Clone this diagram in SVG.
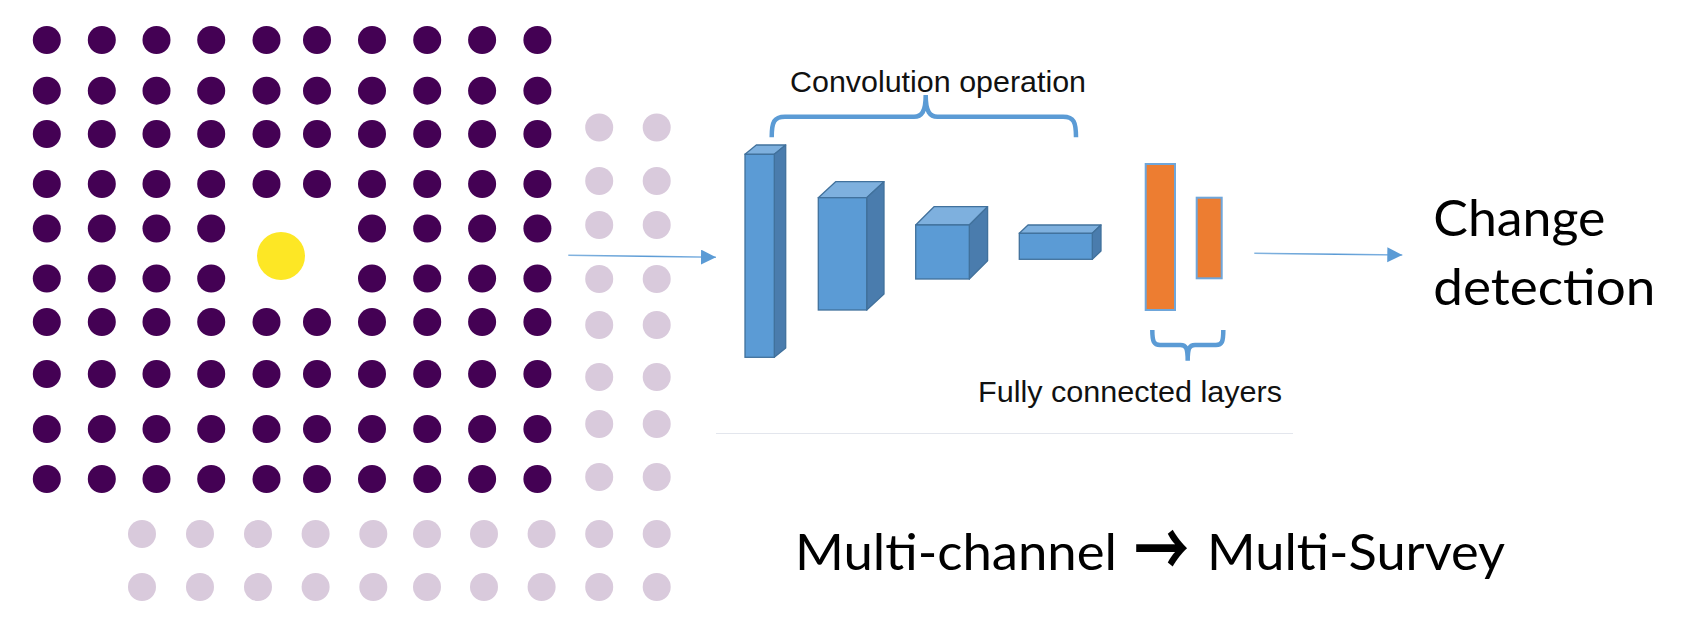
<svg xmlns="http://www.w3.org/2000/svg" width="1694" height="644" viewBox="0 0 1694 644">
<defs>
<style>
.d{fill:#440154}
.g{fill:#d9cadc}
.front{fill:#5b9bd5;stroke:#41719c;stroke-width:1.3}
.top{fill:#7eb0de;stroke:#41719c;stroke-width:1.3;stroke-linejoin:round}
.side{fill:#4a7cad;stroke:#41719c;stroke-width:1.3;stroke-linejoin:round}
.fc{fill:#ed7d31;stroke:#6fa6da;stroke-width:2}
.brace{fill:none;stroke:#5b9bd5;stroke-width:4.5;stroke-linecap:butt}
.lbl{font-family:"Liberation Sans",Arial,sans-serif;font-size:30px;fill:#111}
.big{font-family:Lato,"Open Sans",sans-serif;font-size:51px;fill:#000}
.arr{font-family:"Noto Sans CJK SC","Noto Sans CJK JP",sans-serif;font-weight:bold;font-size:76px}
.conn{fill:none;stroke-width:1.6}
</style>
<marker id="ah" markerUnits="userSpaceOnUse" markerWidth="16" markerHeight="16" refX="15" refY="7.5" orient="auto">
<path d="M0,0 L15,7.5 L0,15 Z" fill="#5b9bd5"/>
</marker>
<linearGradient id="gl1" gradientUnits="userSpaceOnUse" x1="568" y1="0" x2="716" y2="0">
<stop offset="0" stop-color="#5b9bd5" stop-opacity="0.75"/>
<stop offset="0.55" stop-color="#5b9bd5"/>
<stop offset="1" stop-color="#8ab8e4"/>
</linearGradient>
<linearGradient id="gl2" gradientUnits="userSpaceOnUse" x1="1254" y1="0" x2="1402" y2="0">
<stop offset="0" stop-color="#5b9bd5" stop-opacity="0.75"/>
<stop offset="0.55" stop-color="#5b9bd5"/>
<stop offset="1" stop-color="#8ab8e4"/>
</linearGradient>
</defs>
<rect width="1694" height="644" fill="#fff"/>

<g id="input-grid">
<g id="grey-dots">
<circle class="g" cx="599.2" cy="127.5" r="14"/><circle class="g" cx="656.7" cy="127.5" r="14"/>
<circle class="g" cx="599.2" cy="181" r="14"/><circle class="g" cx="656.7" cy="181" r="14"/>
<circle class="g" cx="599.2" cy="225" r="14"/><circle class="g" cx="656.7" cy="225" r="14"/>
<circle class="g" cx="599.2" cy="279" r="14"/><circle class="g" cx="656.7" cy="279" r="14"/>
<circle class="g" cx="599.2" cy="325" r="14"/><circle class="g" cx="656.7" cy="325" r="14"/>
<circle class="g" cx="599.2" cy="377" r="14"/><circle class="g" cx="656.7" cy="377" r="14"/>
<circle class="g" cx="599.2" cy="424" r="14"/><circle class="g" cx="656.7" cy="424" r="14"/>
<circle class="g" cx="599.2" cy="477" r="14"/><circle class="g" cx="656.7" cy="477" r="14"/>
<circle class="g" cx="142" cy="534" r="14"/><circle class="g" cx="200" cy="534" r="14"/><circle class="g" cx="258" cy="534" r="14"/><circle class="g" cx="315.6" cy="534" r="14"/><circle class="g" cx="373.3" cy="534" r="14"/><circle class="g" cx="427" cy="534" r="14"/><circle class="g" cx="484" cy="534" r="14"/><circle class="g" cx="541.6" cy="534" r="14"/><circle class="g" cx="599.2" cy="534" r="14"/><circle class="g" cx="656.7" cy="534" r="14"/>
<circle class="g" cx="142" cy="587" r="14"/><circle class="g" cx="200" cy="587" r="14"/><circle class="g" cx="258" cy="587" r="14"/><circle class="g" cx="315.6" cy="587" r="14"/><circle class="g" cx="373.3" cy="587" r="14"/><circle class="g" cx="427" cy="587" r="14"/><circle class="g" cx="484" cy="587" r="14"/><circle class="g" cx="541.6" cy="587" r="14"/><circle class="g" cx="599.2" cy="587" r="14"/><circle class="g" cx="656.7" cy="587" r="14"/>
</g>
<g id="dark-dots">
<circle class="d" cx="46.8" cy="40" r="14"/><circle class="d" cx="101.8" cy="40" r="14"/><circle class="d" cx="156.5" cy="40" r="14"/><circle class="d" cx="211.2" cy="40" r="14"/><circle class="d" cx="266.5" cy="40" r="14"/><circle class="d" cx="317" cy="40" r="14"/><circle class="d" cx="372" cy="40" r="14"/><circle class="d" cx="427.2" cy="40" r="14"/><circle class="d" cx="482.1" cy="40" r="14"/><circle class="d" cx="537.4" cy="40" r="14"/>
<circle class="d" cx="46.8" cy="90.7" r="14"/><circle class="d" cx="101.8" cy="90.7" r="14"/><circle class="d" cx="156.5" cy="90.7" r="14"/><circle class="d" cx="211.2" cy="90.7" r="14"/><circle class="d" cx="266.5" cy="90.7" r="14"/><circle class="d" cx="317" cy="90.7" r="14"/><circle class="d" cx="372" cy="90.7" r="14"/><circle class="d" cx="427.2" cy="90.7" r="14"/><circle class="d" cx="482.1" cy="90.7" r="14"/><circle class="d" cx="537.4" cy="90.7" r="14"/>
<circle class="d" cx="46.8" cy="134" r="14"/><circle class="d" cx="101.8" cy="134" r="14"/><circle class="d" cx="156.5" cy="134" r="14"/><circle class="d" cx="211.2" cy="134" r="14"/><circle class="d" cx="266.5" cy="134" r="14"/><circle class="d" cx="317" cy="134" r="14"/><circle class="d" cx="372" cy="134" r="14"/><circle class="d" cx="427.2" cy="134" r="14"/><circle class="d" cx="482.1" cy="134" r="14"/><circle class="d" cx="537.4" cy="134" r="14"/>
<circle class="d" cx="46.8" cy="184" r="14"/><circle class="d" cx="101.8" cy="184" r="14"/><circle class="d" cx="156.5" cy="184" r="14"/><circle class="d" cx="211.2" cy="184" r="14"/><circle class="d" cx="266.5" cy="184" r="14"/><circle class="d" cx="317" cy="184" r="14"/><circle class="d" cx="372" cy="184" r="14"/><circle class="d" cx="427.2" cy="184" r="14"/><circle class="d" cx="482.1" cy="184" r="14"/><circle class="d" cx="537.4" cy="184" r="14"/>
<circle class="d" cx="46.8" cy="228.5" r="14"/><circle class="d" cx="101.8" cy="228.5" r="14"/><circle class="d" cx="156.5" cy="228.5" r="14"/><circle class="d" cx="211.2" cy="228.5" r="14"/><circle class="d" cx="372" cy="228.5" r="14"/><circle class="d" cx="427.2" cy="228.5" r="14"/><circle class="d" cx="482.1" cy="228.5" r="14"/><circle class="d" cx="537.4" cy="228.5" r="14"/>
<circle class="d" cx="46.8" cy="278.5" r="14"/><circle class="d" cx="101.8" cy="278.5" r="14"/><circle class="d" cx="156.5" cy="278.5" r="14"/><circle class="d" cx="211.2" cy="278.5" r="14"/><circle class="d" cx="372" cy="278.5" r="14"/><circle class="d" cx="427.2" cy="278.5" r="14"/><circle class="d" cx="482.1" cy="278.5" r="14"/><circle class="d" cx="537.4" cy="278.5" r="14"/>
<circle class="d" cx="46.8" cy="322" r="14"/><circle class="d" cx="101.8" cy="322" r="14"/><circle class="d" cx="156.5" cy="322" r="14"/><circle class="d" cx="211.2" cy="322" r="14"/><circle class="d" cx="266.5" cy="322" r="14"/><circle class="d" cx="317" cy="322" r="14"/><circle class="d" cx="372" cy="322" r="14"/><circle class="d" cx="427.2" cy="322" r="14"/><circle class="d" cx="482.1" cy="322" r="14"/><circle class="d" cx="537.4" cy="322" r="14"/>
<circle class="d" cx="46.8" cy="374" r="14"/><circle class="d" cx="101.8" cy="374" r="14"/><circle class="d" cx="156.5" cy="374" r="14"/><circle class="d" cx="211.2" cy="374" r="14"/><circle class="d" cx="266.5" cy="374" r="14"/><circle class="d" cx="317" cy="374" r="14"/><circle class="d" cx="372" cy="374" r="14"/><circle class="d" cx="427.2" cy="374" r="14"/><circle class="d" cx="482.1" cy="374" r="14"/><circle class="d" cx="537.4" cy="374" r="14"/>
<circle class="d" cx="46.8" cy="429" r="14"/><circle class="d" cx="101.8" cy="429" r="14"/><circle class="d" cx="156.5" cy="429" r="14"/><circle class="d" cx="211.2" cy="429" r="14"/><circle class="d" cx="266.5" cy="429" r="14"/><circle class="d" cx="317" cy="429" r="14"/><circle class="d" cx="372" cy="429" r="14"/><circle class="d" cx="427.2" cy="429" r="14"/><circle class="d" cx="482.1" cy="429" r="14"/><circle class="d" cx="537.4" cy="429" r="14"/>
<circle class="d" cx="46.8" cy="479" r="14"/><circle class="d" cx="101.8" cy="479" r="14"/><circle class="d" cx="156.5" cy="479" r="14"/><circle class="d" cx="211.2" cy="479" r="14"/><circle class="d" cx="266.5" cy="479" r="14"/><circle class="d" cx="317" cy="479" r="14"/><circle class="d" cx="372" cy="479" r="14"/><circle class="d" cx="427.2" cy="479" r="14"/><circle class="d" cx="482.1" cy="479" r="14"/><circle class="d" cx="537.4" cy="479" r="14"/>
</g>
<circle id="target-dot" cx="281" cy="256" r="24" fill="#fde725"/>
</g>

<g id="conv-layer-1">
<path class="top" d="M745,154.3 L756.3,145 L785.7,145 L774.3,154.3 Z"/>
<path class="side" d="M774.3,154.3 L785.7,145 L785.7,348 L774.3,357.3 Z"/>
<rect class="front" x="745" y="154.3" width="29.3" height="203"/>
</g>
<g id="conv-layer-2">
<path class="top" d="M818.3,197.7 L835.6,181.7 L884,181.7 L866.7,197.7 Z"/>
<path class="side" d="M866.7,197.7 L884,181.7 L884,294 L866.7,310 Z"/>
<rect class="front" x="818.3" y="197.7" width="48.4" height="112.3"/>
</g>
<g id="conv-layer-3">
<path class="top" d="M915.7,225 L934,206.7 L987.6,206.7 L969.3,225 Z"/>
<path class="side" d="M969.3,225 L987.6,206.7 L987.6,260.7 L969.3,279 Z"/>
<rect class="front" x="915.7" y="225" width="53.6" height="54"/>
</g>
<g id="conv-layer-4">
<path class="top" d="M1019.3,233.3 L1028,225 L1101,225 L1092.3,233.3 Z"/>
<path class="side" d="M1092.3,233.3 L1101,225 L1101,251 L1092.3,259.3 Z"/>
<rect class="front" x="1019.3" y="233.3" width="73" height="26"/>
</g>
<g id="fc-layer-1"><rect class="fc" x="1145.7" y="164" width="29.3" height="146"/></g>
<g id="fc-layer-2"><rect class="fc" x="1196.7" y="197.7" width="25" height="80.6"/></g>

<g id="conv-label">
<path class="brace" d="M771.7,137.3 C771.7,122 774,116.7 785,116.7 L914,116.7 C921.5,116.7 925.7,112 925.7,95 C925.7,112 930,116.7 937.5,116.7 L1063,116.7 C1074,116.7 1076,122 1076,137.3"/>
<text class="lbl" x="790" y="91.7" textLength="296" lengthAdjust="spacingAndGlyphs">Convolution operation</text>
</g>
<g id="fc-label">
<path class="brace" d="M1152.3,330 C1152.3,342 1154,345 1160,345 L1180.5,345 C1186,345 1187.7,348 1187.7,360.7 C1187.7,348 1189.5,345 1195,345 L1216,345 C1222,345 1223.3,342 1223.3,330"/>
<text class="lbl" x="978" y="402.3" textLength="304" lengthAdjust="spacingAndGlyphs">Fully connected layers</text>
</g>
<line id="separator" x1="716" y1="433.5" x2="1293" y2="433.5" stroke="#e3e6ed" stroke-width="1.2"/>

<g id="output">
<text class="big" x="1433.3" y="236" textLength="172" lengthAdjust="spacingAndGlyphs">Change</text>
<text class="big" x="1433.3" y="305.3" textLength="222" lengthAdjust="spacingAndGlyphs">detection</text>
</g>

<g id="caption">
<text class="big" y="570"><tspan x="795" textLength="322" lengthAdjust="spacingAndGlyphs">Multi-channel</tspan><tspan class="arr" x="1134" y="577" textLength="55" lengthAdjust="spacingAndGlyphs">→</tspan><tspan x="1207" y="570" textLength="298" lengthAdjust="spacingAndGlyphs">Multi-Survey</tspan></text>
</g>

<g id="connectors">
<path class="conn" d="M568.3,255.3 L716,257.3" stroke="url(#gl1)" marker-end="url(#ah)"/>
<path class="conn" d="M1254.3,253.3 L1402.3,255" stroke="url(#gl2)" marker-end="url(#ah)"/>
</g>
</svg>
